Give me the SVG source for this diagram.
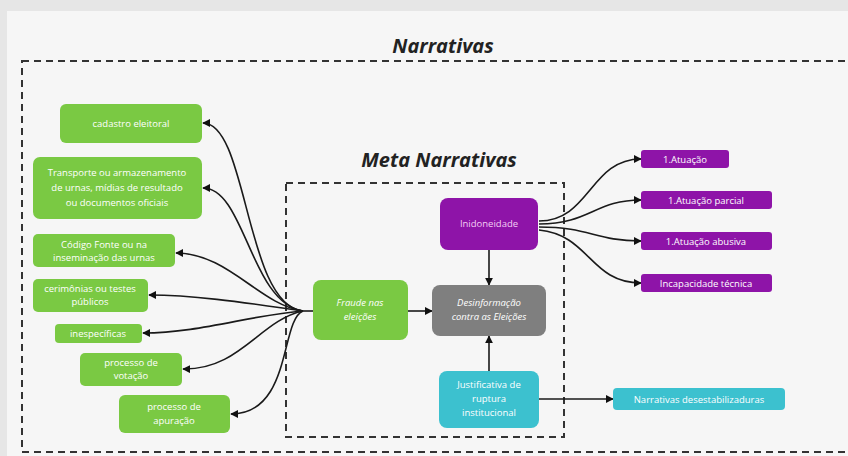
<svg xmlns="http://www.w3.org/2000/svg" width="848" height="456" viewBox="0 0 848 456">
<defs>
<marker id="ah" viewBox="0 0 10 10" refX="9" refY="5" markerWidth="5" markerHeight="5" orient="auto-start-reverse">
<path d="M0,0 L10,5 L0,10 z" fill="#111"/>
</marker>
<style>
.t{font-family:"Open Sans","Liberation Sans",sans-serif;fill:#fff;font-size:9.5px;text-anchor:middle}
.it{font-style:italic}
.g{fill:#7ac943}
.p{fill:#8e14a8}
.c{fill:#3cc1cf}
.e{fill:none;stroke:#1a1a1a;stroke-width:1.6}
.dash{fill:none;stroke:#333;stroke-width:2;stroke-dasharray:7 5}
.title{font-family:"Open Sans","Liberation Sans",sans-serif;font-weight:bold;font-style:italic;fill:#222;text-anchor:middle}
</style>
</defs>
<rect width="848" height="456" fill="#e6e6e6"/>
<rect x="7" y="11" width="841" height="445" fill="#f6f6f6"/>
<text class="title" x="443" y="53" font-size="20">Narrativas</text>
<rect class="dash" x="22" y="61" width="840" height="391"/>
<text class="title" x="439" y="167" font-size="20">Meta Narrativas</text>
<rect class="dash" x="286" y="183" width="278" height="254"/>

<g id="connectors">
<path class="e" d="M313,311 L303,311"/>
<path class="e" marker-end="url(#ah)" d="M303,311 C245,305 248,123 203,123"/>
<path class="e" marker-end="url(#ah)" d="M303,311 C250,302 245,188 203,188"/>
<path class="e" marker-end="url(#ah)" d="M303,311 C260,305 228,253 176,253"/>
<path class="e" marker-end="url(#ah)" d="M303,311 C260,305 200,295 149,295"/>
<path class="e" marker-end="url(#ah)" d="M303,311 C250,315 200,333 143,333"/>
<path class="e" marker-end="url(#ah)" d="M303,311 C260,320 240,370 183,369"/>
<path class="e" marker-end="url(#ah)" d="M303,311 C280,320 292,414 231,414"/>
<path class="e" marker-end="url(#ah)" d="M408,311 L432,311"/>
<path class="e" marker-end="url(#ah)" d="M489,250 L489,285"/>
<path class="e" marker-end="url(#ah)" d="M489,371 L489,336"/>
<path class="e" marker-end="url(#ah)" d="M539,399 L613,399"/>
<path class="e" marker-end="url(#ah)" d="M539,221 C590,221 590,159 641,159"/>
<path class="e" marker-end="url(#ah)" d="M539,224 C590,224 595,200 641,200"/>
<path class="e" marker-end="url(#ah)" d="M539,227 C590,227 595,241 641,241"/>
<path class="e" marker-end="url(#ah)" d="M539,230 C590,235 590,283 641,283"/>
</g>

<g id="cadastro"><rect class="g" x="60" y="104" width="142" height="39" rx="6"/><text class="t" x="131" y="127">cadastro eleitoral</text></g>
<g id="transporte"><rect class="g" x="33" y="157" width="169" height="62" rx="7"/>
<text class="t" x="117" y="176">Transporte ou armazenamento</text>
<text class="t" x="117" y="191">de urnas, mídias de resultado</text>
<text class="t" x="117" y="206">ou documentos oficiais</text></g>
<g id="codigo"><rect class="g" x="33" y="234" width="142" height="33" rx="5"/>
<text class="t" x="104" y="248">Código Fonte ou na</text>
<text class="t" x="104" y="261">inseminação das urnas</text></g>
<g id="cerimonias"><rect class="g" x="33" y="279" width="115" height="33" rx="5"/>
<text class="t" x="90" y="292">cerimônias ou testes</text>
<text class="t" x="90" y="305">públicos</text></g>
<g id="inespecificas"><rect class="g" x="55" y="324" width="87" height="19" rx="4"/>
<text class="t" x="98" y="337">inespecíficas</text></g>
<g id="votacao"><rect class="g" x="80" y="353" width="102" height="33" rx="5"/>
<text class="t" x="131" y="366">processo de</text>
<text class="t" x="131" y="379">votação</text></g>
<g id="apuracao"><rect class="g" x="119" y="395" width="111" height="38" rx="6"/>
<text class="t" x="174" y="410">processo de</text>
<text class="t" x="174" y="424">apuração</text></g>

<g id="fraude"><rect class="g" x="313" y="280" width="95" height="60" rx="8"/>
<text class="t it" x="360" y="306">Fraude nas</text>
<text class="t it" x="360" y="320">eleições</text></g>
<g id="desinformacao"><rect x="432" y="285" width="114" height="51" rx="8" fill="#7f7f7f"/>
<text class="t it" x="489" y="306">Desinformação</text>
<text class="t it" x="489" y="320">contra as Eleições</text></g>
<g id="inidoneidade"><rect class="p" x="440" y="198" width="98" height="52" rx="8"/>
<text class="t" x="489" y="227" fill="#f2c8f4" style="fill:#f4cdf5">Inidoneidade</text></g>
<g id="justificativa"><rect class="c" x="439" y="371" width="100" height="57" rx="8"/>
<text class="t" x="489" y="388">Justificativa de</text>
<text class="t" x="489" y="402">ruptura</text>
<text class="t" x="489" y="416">institucional</text></g>

<g id="atuacao"><rect class="p" x="641" y="150" width="88" height="18" rx="3"/><text class="t" x="685" y="163">1.Atuação</text></g>
<g id="atuacao-parcial"><rect class="p" x="641" y="191" width="131" height="18" rx="3"/><text class="t" x="706" y="204">1.Atuação parcial</text></g>
<g id="atuacao-abusiva"><rect class="p" x="641" y="232" width="131" height="18" rx="3"/><text class="t" x="706" y="245">1.Atuação abusiva</text></g>
<g id="incapacidade"><rect class="p" x="641" y="274" width="131" height="18" rx="3"/><text class="t" x="706" y="287">Incapacidade técnica</text></g>
<g id="desestabilizaduras"><rect class="c" x="613" y="388" width="172" height="22" rx="4"/><text class="t" x="699" y="402.5">Narrativas desestabilizaduras</text></g>
</svg>
